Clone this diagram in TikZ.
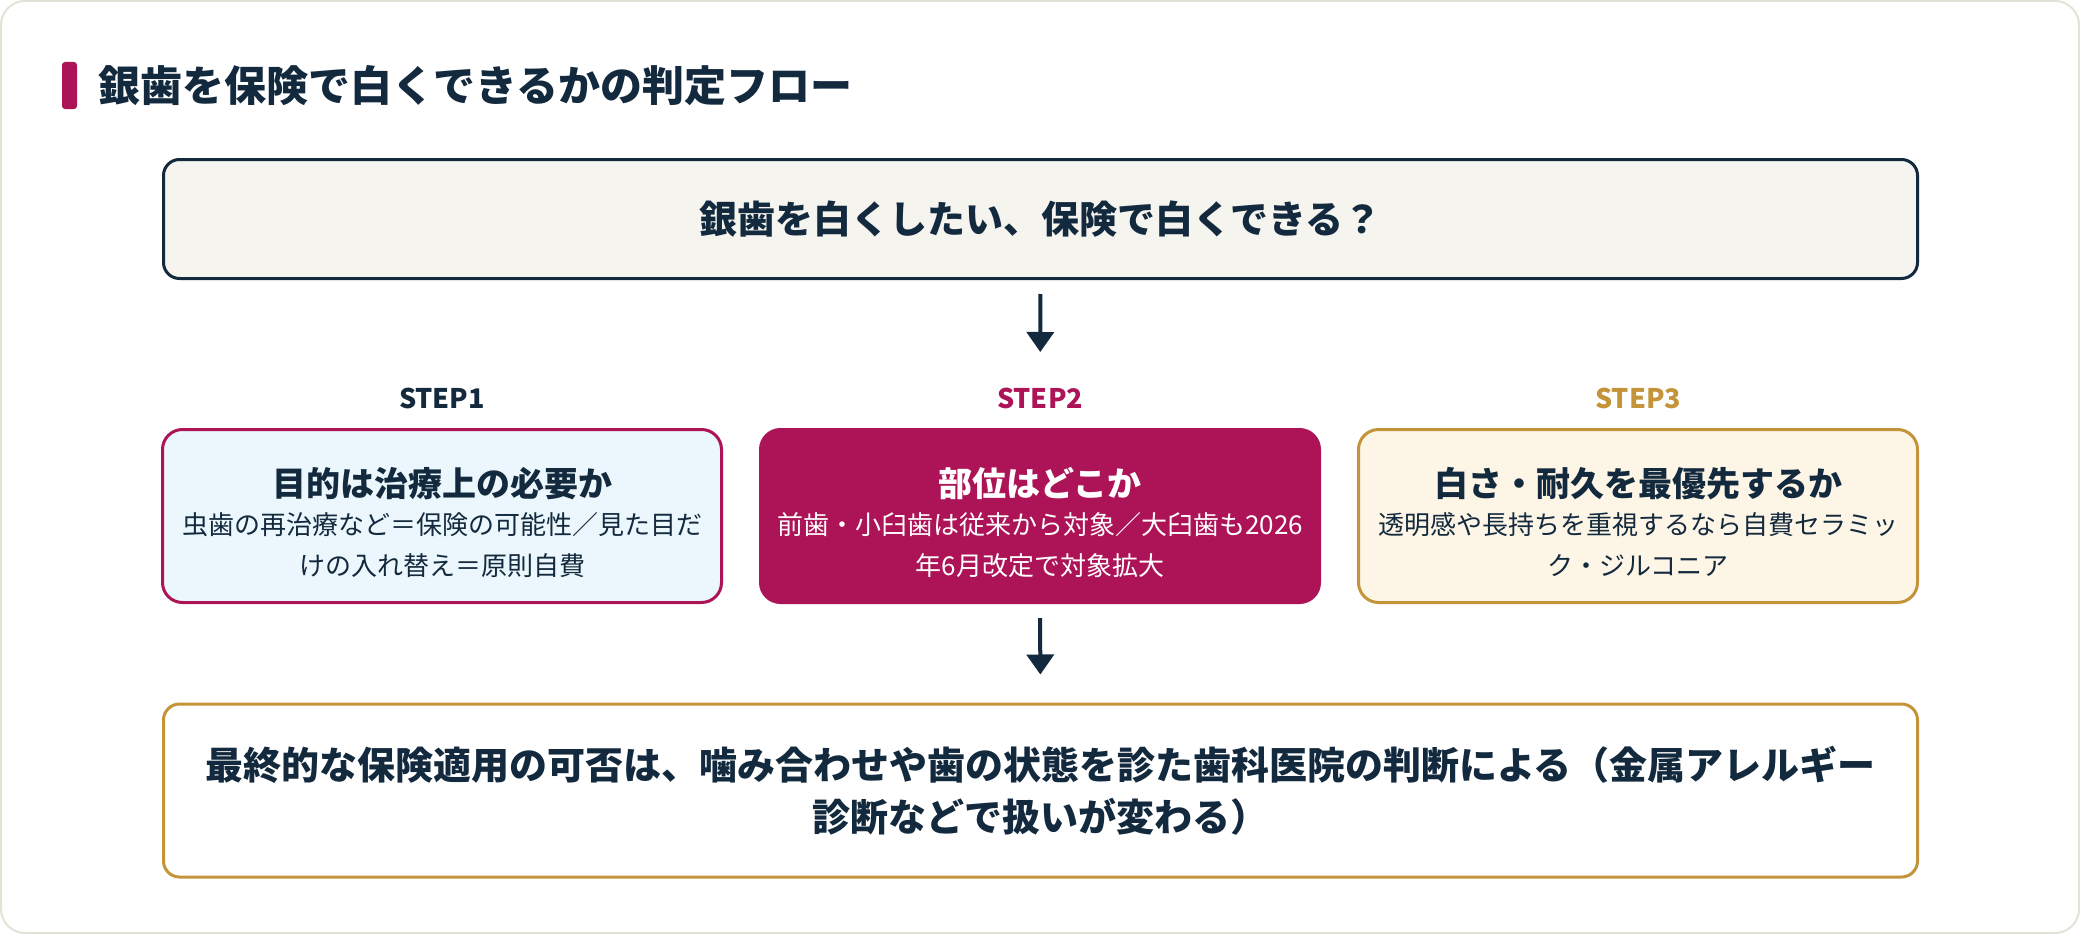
\documentclass[tikz,border=0pt]{standalone}
\usepackage{fontspec}
\setmainfont{Noto Sans CJK JP}
\usetikzlibrary{arrows.meta,positioning}
\definecolor{navy}{HTML}{13293D}
\definecolor{crimson}{HTML}{AD1457}
\definecolor{gold}{HTML}{C4943A}
\definecolor{paper}{HTML}{F5F4EF}
\definecolor{skyfill}{HTML}{EBF7FC}
\definecolor{creamfill}{HTML}{FDF5E6}
\definecolor{rim}{HTML}{E4E2D6}
\newcommand{\stephead}[1]{{\fontsize{34}{40}\selectfont\bfseries\rule{0pt}{42pt}#1}}

\begin{document}
\begin{tikzpicture}[
   x=1pt, y=-1pt,
   node distance=36pt,
   titlebar/.style={fill=crimson, rounded corners=3pt, minimum width=15pt,
      minimum height=47pt, inner sep=0pt},
   titletext/.style={inner sep=0pt, text=navy, font=\fontsize{42}{48}\selectfont\bfseries},
   widebox/.style={draw=navy, line width=3pt, rounded corners=16pt,
      minimum width=1754pt, inner sep=0pt, align=center, text=navy,
      font=\fontsize{38}{52}\selectfont\bfseries},
   stepbox/.style={line width=3pt, rounded corners=20pt, minimum width=559pt,
      minimum height=173pt, inner sep=0pt, align=center, text=navy,
      font=\fontsize{26}{41}\selectfont},
   steplabel/.style={inner sep=0pt, font=\fontsize{27}{32}\selectfont\bfseries},
   arrow/.style={-{Triangle[length=20pt, width=27pt]}, line width=4pt, draw=navy}
]
\useasboundingbox (0,0) rectangle (2080,934);
\draw[rim, line width=2pt, fill=white, rounded corners=24pt] (1,1) rectangle (2079,933);

\node[titlebar] (bar) at (69.5,85.5) {};
\node[titletext, right=21pt of bar] (title) {銀歯を保険で白くできるかの判定フロー};

\node[widebox, fill=paper, minimum height=119pt] (question) at (1040.5,219)
   {銀歯を白くしたい、保険で白くできる？};

\node[stepbox, draw=crimson, fill=crimson, text=white] (location) at (1040,516)
   {\stephead{部位はどこか}\\[-3pt]
    前歯・小臼歯は従来から対象／大臼歯も2026\\
    年6月改定で対象拡大};
\node[stepbox, draw=crimson, fill=skyfill, left=of location] (purpose)
   {\stephead{目的は治療上の必要か}\\[-3pt]
    虫歯の再治療など＝保険の可能性／見た目だ\\
    けの入れ替え＝原則自費};
\node[stepbox, draw=gold, fill=creamfill, right=of location] (priority)
   {\stephead{白さ・耐久を最優先するか}\\[-3pt]
    透明感や長持ちを重視するなら自費セラミッ\\
    ク・ジルコニア};

\node[steplabel, text=navy, above=19pt of purpose] (stepone) {STEP1};
\node[steplabel, text=crimson, above=19pt of location] (steptwo) {STEP2};
\node[steplabel, text=gold, above=19pt of priority] (stepthree) {STEP3};

\node[widebox, draw=gold, fill=white, minimum height=173pt] (verdict) at (1040.5,790.5)
   {最終的な保険適用の可否は、噛み合わせや歯の状態を診た歯科医院の判断による（金属アレルギー\\
    診断などで扱いが変わる）};

\draw[arrow, shorten <=14pt, shorten >=76pt] (question.south) -- (location.north);
\draw[arrow, shorten <=14pt, shorten >=28pt] (location.south) -- (verdict.north);
\end{tikzpicture}
\end{document}
